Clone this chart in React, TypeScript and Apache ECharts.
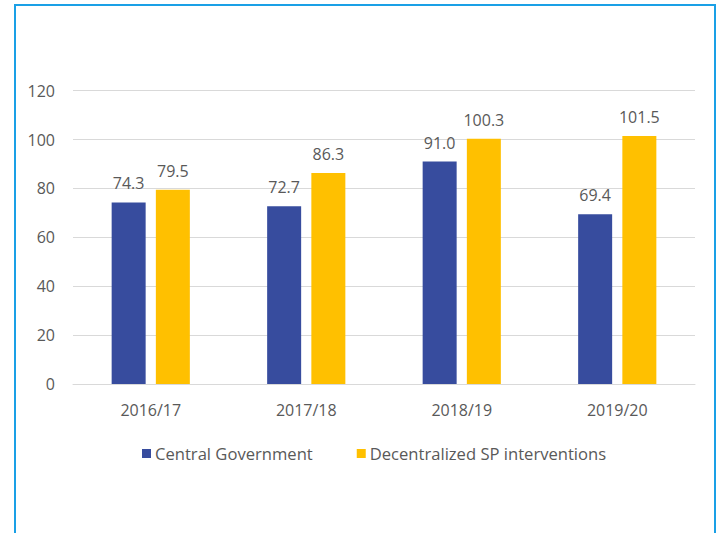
import React, { useEffect, useRef } from "react";
import * as echarts from "echarts";

const categories = ["2016/17", "2017/18", "2018/19", "2019/20"];
const centralGov = [74.3, 72.7, 91.0, 69.4];
const decentralized = [79.5, 86.3, 100.3, 101.5];
const seriesNames = ["Central Government", "Decentralized SP interventions"];

const FONT = "'Open Sans', 'Noto Sans', sans-serif";
const TEXT = "#595959";

export default function App() {
  const ref = useRef<HTMLDivElement>(null);
  useEffect(() => {
    if (!ref.current) return;
    const chart = echarts.init(ref.current, undefined, { renderer: "svg" });
    const label = {
      show: true,
      position: "top",
      distance: 11,
      color: TEXT,
      fontSize: 16,
      fontFamily: FONT,
      formatter: (p: any) => Number(p.value).toFixed(1),
    };
    chart.setOption({
      animation: false,
      backgroundColor: "#ffffff",
      textStyle: { fontFamily: FONT },
      graphic: [
        {
          type: "rect",
          shape: { x: 15, y: 5, width: 700, height: 600 },
          style: { fill: "none", stroke: "#1AA0E6", lineWidth: 2 },
          silent: true,
        },
      ],
      grid: { left: 73, right: 26, top: 90.7, bottom: 149, containLabel: false },
      legend: {
        data: seriesNames,
        left: 137,
        top: 440,
        itemWidth: 9,
        itemHeight: 9,
        itemGap: 44,
        icon: "rect",
        textStyle: { color: TEXT, fontSize: 16.6, fontFamily: FONT, padding: [0, 0, 0, -1] },
      },
      xAxis: {
        type: "category",
        data: categories,
        axisTick: { show: false },
        axisLine: { lineStyle: { color: "#D9D9D9", width: 1 } },
        axisLabel: { color: TEXT, fontSize: 16, fontFamily: FONT, margin: 18 },
      },
      yAxis: {
        type: "value",
        min: 0,
        max: 120,
        interval: 20,
        axisLine: { show: false },
        axisTick: { show: false },
        splitLine: { lineStyle: { color: "#D9D9D9", width: 1 } },
        axisLabel: { color: TEXT, fontSize: 16, fontFamily: FONT, margin: 18 },
      },
      series: [
        {
          name: seriesNames[0],
          type: "bar",
          data: centralGov,
          barWidth: 34,
          barGap: "30%",
          itemStyle: { color: "#374C9E" },
          label,
        },
        {
          name: seriesNames[1],
          type: "bar",
          data: decentralized,
          barWidth: 34,
          itemStyle: { color: "#FFC000" },
          label,
        },
      ],
    });
    return () => chart.dispose();
  }, []);
  return (
    <div
      ref={ref}
      style={{ position: "fixed", left: 0, top: 0, width: 721, height: 533, background: "#fff" }}
    />
  );
}
